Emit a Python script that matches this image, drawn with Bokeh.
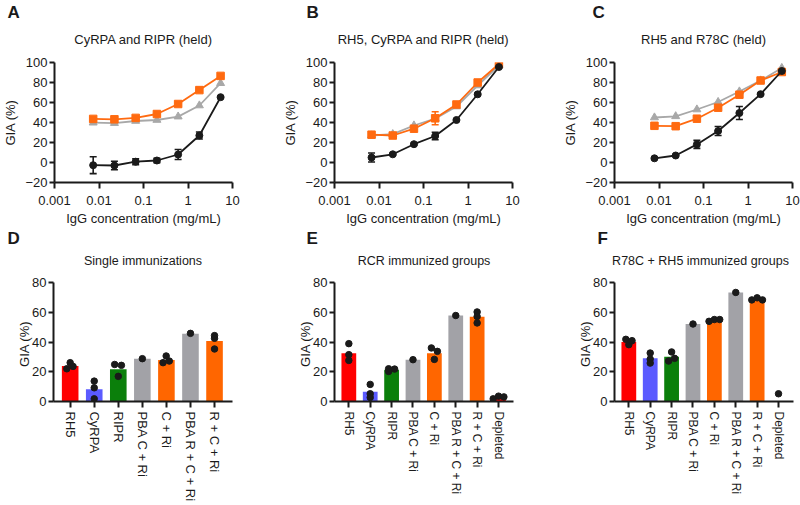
from bokeh.plotting import figure
from bokeh.models import Range1d, FixedTicker, Title, Whisker, TeeHead, ColumnDataSource
from bokeh.layouts import row, column
from bokeh.embed import file_html
from bokeh.resources import INLINE

FONT = "Liberation Sans"
INK = "#1a1a1a"
ORANGE = "#FF6A10"
GREY_LINE = "#A8A8A8"

# ---------------- data: panels A-C (GIA vs IgG concentration) ----------------
x_ticks = [0.001, 0.01, 0.1, 1.0, 10.0]
x_tick_labels = ["0.001", "0.01", "0.1", "1", "10"]
y_ticks_top = [-20, 0, 20, 40, 60, 80, 100]

conc_A = [0.0074, 0.0222, 0.0667, 0.2, 0.6, 1.8, 5.4]
sq_A = [43.6, 43.2, 44.6, 48.5, 58.5, 72.4, 86.6]
tri_A = [39.8, 39.4, 41.5, 42.5, 45.9, 57.0, 79.3]
dot_A = [-2.7, -3.0, 0.8, 2.0, 8.0, 27.0, 65.3]
dot_A_err = [8.4, 4.2, 3.0, 2.3, 5.0, 3.5, 1.0]
sq_A_err = [1.0, 1.0, 1.0, 1.0, 1.0, 1.0, 1.0]

conc_B = [0.0068, 0.0204, 0.061, 0.183, 0.55, 1.65, 4.95]
sq_B = [27.8, 27.0, 33.8, 44.2, 58.0, 80.0, 98.5]
tri_B = [27.0, 28.3, 37.0, 43.8, 56.0, 77.0, 97.0]
dot_B = [5.0, 8.2, 18.3, 26.5, 42.5, 68.2, 95.5]
dot_B_err = [4.5, 1.0, 1.0, 3.7, 1.0, 1.0, 1.0]
sq_B_err = [1.0, 1.0, 1.0, 6.5, 2.0, 1.0, 1.0]

conc_C = [0.0079, 0.0237, 0.071, 0.213, 0.64, 1.92, 5.75]
sq_C = [36.7, 36.3, 43.8, 54.8, 67.8, 82.0, 90.5]
tri_C = [45.0, 46.2, 53.0, 60.5, 71.0, 82.0, 94.5]
dot_C = [4.2, 7.0, 18.1, 31.5, 49.5, 68.3, 91.5]
dot_C_err = [1.0, 1.0, 4.0, 4.5, 6.5, 1.0, 2.0]
sq_C_err = [1.0, 1.0, 1.0, 1.0, 1.0, 1.0, 1.0]

# ---------------- data: panels D-F (GIA of purified IgG per group) ----------------
y_ticks_bar = [0, 20, 40, 60, 80]
groups_D = ["RH5", "CyRPA", "RIPR", "PBA C + Ri", "C + Ri", "PBA R + C + Ri", "R + C + Ri"]
groups_EF = groups_D + ["Depleted"]

bar_D = [23.8, 8.3, 21.6, 28.8, 27.9, 45.6, 40.7]
reps_D = [[22.0, 26.1, 23.6], [13.7, 9.2, 1.8], [24.9, 24.3, 16.9], [28.8],
          [26.1, 30.6, 27.2], [45.8], [44.3, 42.5, 35.3]]
dodge_D = [[-0.14, 0.0, 0.12], [0.0, 0.0, 0.0], [-0.15, 0.13, 0.0], [0.0],
           [-0.14, -0.01, 0.12], [0.0], [0.0, 0.0, 0.0]]

bar_E = [32.4, 6.5, 21.3, 28.1, 32.4, 57.8, 56.9, 2.8]
reps_E = [[38.9, 31.5, 27.6], [11.5, 5.2, 2.7], [22.0, 20.2, 21.8], [28.1],
          [36.0, 33.7, 28.3], [57.8], [60.2, 57.1, 52.8], [1.8, 3.6, 3.1]]
dodge_E = [[0.0, 0.0, 0.0], [0.0, 0.0, 0.0], [-0.14, -0.14, 0.14], [0.0],
           [-0.14, 0.14, 0.0], [0.0], [0.0, 0.0, 0.0], [-0.25, 0.0, 0.25]]

bar_F = [40.0, 29.0, 30.1, 52.1, 54.6, 73.3, 68.3, 0.0]
reps_F = [[41.8, 38.2, 40.9], [32.6, 28.5, 25.8], [27.2, 33.3, 29.0], [52.1],
          [53.9, 55.1, 55.1], [73.3], [68.3, 69.7, 68.3], [5.2]]
dodge_F = [[-0.14, 0.0, 0.15], [0.0, 0.0, 0.0], [-0.14, 0.0, 0.14], [0.0],
           [-0.25, 0.0, 0.25], [0.0], [-0.25, 0.0, 0.25], [0.0]]

BAR_COLORS = {"RH5": "#FF0000", "CyRPA": "#5B5BFF", "RIPR": "#0B7F0B",
              "PBA C + Ri": "#A2A2A7", "C + Ri": "#FF6600",
              "PBA R + C + Ri": "#A2A2A7", "R + C + Ri": "#FF6600", "Depleted": "#FF0000"}


def add_titles(p, title, title_size, title_dx, title_standoff, letter, letter_dx, letter_standoff):
    p.add_layout(Title(text=title, align="center", offset=title_dx, text_font=FONT,
                       text_font_size=title_size, text_font_style="normal", text_color=INK,
                       standoff=title_standoff), "above")
    p.add_layout(Title(text=letter, align="left", offset=letter_dx, text_font=FONT,
                       text_font_size="17px", text_font_style="bold", text_color=INK,
                       standoff=letter_standoff), "above")


def style(p, yticks):
    p.outline_line_color = None
    p.xgrid.grid_line_color = None
    p.ygrid.grid_line_color = None
    p.background_fill_color = "white"
    p.border_fill_color = "white"
    p.yaxis.ticker = FixedTicker(ticks=yticks, minor_ticks=[])
    for ax in (p.xaxis[0], p.yaxis[0]):
        ax.axis_line_width = 2
        ax.axis_line_color = INK
        ax.major_tick_line_width = 2
        ax.major_tick_line_color = INK
        ax.major_tick_in = 0
        ax.minor_tick_line_color = None
        ax.major_label_text_font = FONT
        ax.major_label_text_font_size = "13px"
        ax.major_label_text_color = INK
        ax.axis_label_text_font = FONT
        ax.axis_label_text_font_size = "13px"
        ax.axis_label_text_font_style = "normal"
        ax.axis_label_text_color = INK
    p.xaxis.major_tick_out = 6
    p.yaxis.major_tick_out = 5
    p.yaxis.major_label_standoff = 2


def whiskers(p, xs, ys, errs, color):
    src = ColumnDataSource(dict(x=xs, lo=[v - e for v, e in zip(ys, errs)],
                                hi=[v + e for v, e in zip(ys, errs)]))
    p.add_layout(Whisker(source=src, base="x", lower="lo", upper="hi", dimension="height",
                         line_color=color, line_width=1.6,
                         upper_head=TeeHead(size=7, line_color=color, line_width=1.6),
                         lower_head=TeeHead(size=7, line_color=color, line_width=1.6)))


def curve_panel(title, title_dx, letter, letter_dx, conc, sq, tri, dot, dot_err, sq_err, width, right):
    p = figure(width=width, height=228, x_axis_type="log", title=None,
               x_range=Range1d(0.001, 10), y_range=Range1d(-20, 100),
               min_border_left=54, min_border_right=right, min_border_top=62, min_border_bottom=46,
               output_backend="svg", toolbar_location=None)
    style(p, y_ticks_top)
    p.xaxis.ticker = FixedTicker(ticks=x_ticks, minor_ticks=[])
    p.xaxis.major_label_overrides = {t: s for t, s in zip(x_ticks, x_tick_labels)}
    p.xaxis.major_label_standoff = 7
    p.xaxis.axis_label_standoff = 3
    p.yaxis.axis_label_standoff = 4
    p.xaxis.axis_label = "IgG concentration (mg/mL)"
    p.yaxis.axis_label = "GIA (%)"

    p.line(conc, tri, line_color=GREY_LINE, line_width=1.8)
    p.scatter(conc, tri, marker="triangle", size=8, color=GREY_LINE)
    whiskers(p, conc, sq, sq_err, ORANGE)
    p.line(conc, sq, line_color=ORANGE, line_width=1.8)
    p.scatter(conc, sq, marker="square", size=7.5, color=ORANGE)
    whiskers(p, conc, dot, dot_err, INK)
    p.line(conc, dot, line_color=INK, line_width=1.8)
    p.scatter(conc, dot, marker="circle", size=7, color=INK)

    add_titles(p, title, "13px", title_dx, 32, letter, letter_dx, -16)
    return p


def bar_panel(title, title_dx, letter, letter_dx, groups, bars, reps, dodge,
              width, left, right, xr, lab_size):
    idx = list(range(len(groups)))
    p = figure(width=width, height=277, title=None, x_range=Range1d(*xr), y_range=Range1d(0, 80),
               min_border_left=left, min_border_right=right, min_border_top=54, min_border_bottom=104,
               output_backend="svg", toolbar_location=None)
    style(p, y_ticks_bar)
    p.vbar(x=idx, top=bars, bottom=0, width=0.69,
           fill_color=[BAR_COLORS[g] for g in groups], line_color=None)
    xs = [i + d for i, dd in enumerate(dodge) for d in dd]
    ys = [v for r in reps for v in r]
    p.scatter(xs, ys, marker="circle", size=6.5, color=INK)
    p.xaxis.ticker = FixedTicker(ticks=idx, minor_ticks=[])
    p.xaxis.major_label_overrides = {i: g for i, g in enumerate(groups)}
    p.xaxis.major_label_orientation = "vertical"
    p.xaxis.major_label_text_font_size = lab_size
    p.xaxis.major_label_standoff = 4
    p.yaxis.axis_label = "GIA  (%)"
    p.yaxis.axis_label_standoff = -3

    add_titles(p, title, "12.5px", title_dx, 30, letter, letter_dx, -22)
    return p


pA = curve_panel("CyRPA and RIPR (held)", 0, "A", -47, conc_A, sq_A, tri_A, dot_A, dot_A_err, sq_A_err, 280, 48)
pB = curve_panel("RH5, CyRPA and RIPR (held)", 5, "B", -28, conc_B, sq_B, tri_B, dot_B, dot_B_err, sq_B_err, 280, 48)
pC = curve_panel("RH5 and R78C (held)", 0, "C", -22, conc_C, sq_C, tri_C, dot_C, dot_C_err, sq_C_err, 240, 8)

pD = bar_panel("Single immunizations", -4, "D", -46, groups_D, bar_D, reps_D, dodge_D,
               280, 53, 48, (-0.693, 6.747), "13px")
pE = bar_panel("RCR immunized groups", -10, "E", -28, groups_EF, bar_E, reps_E, dodge_E,
               280, 54, 47, (-0.67, 7.70), "12px")
pF = bar_panel("R78C  +  RH5 immunized groups", 2, "F", -17, groups_EF, bar_F, reps_F, dodge_F,
               240, 54, 7, (-0.67, 7.70), "12px")

layout = column(row(pA, pB, pC), row(pD, pE, pF))
open("out.html", "w").write(file_html(layout, INLINE))
